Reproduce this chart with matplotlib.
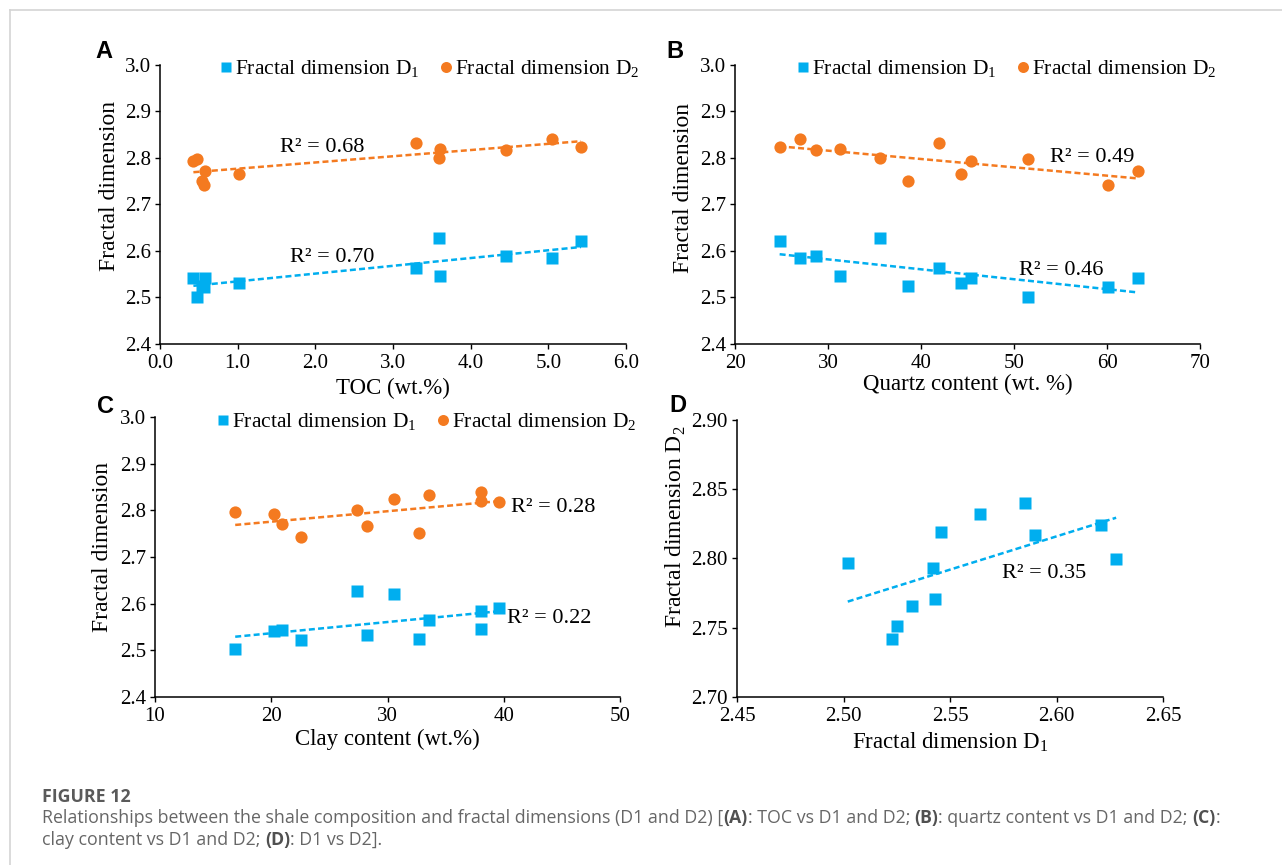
import numpy as np
import matplotlib
matplotlib.use("Agg")
import matplotlib.pyplot as plt
from matplotlib.lines import Line2D
from matplotlib.ticker import FormatStrFormatter, MultipleLocator

plt.rcParams["font.family"] = ["Liberation Serif", "DejaVu Serif"]
plt.rcParams["mathtext.fontset"] = "custom"
plt.rcParams["mathtext.rm"] = "Liberation Serif"

# Fractal dimensions of the twelve shale samples
d1 = [2.502, 2.523, 2.525, 2.532, 2.542, 2.543, 2.546, 2.564, 2.585, 2.590, 2.621, 2.628]
d2 = [2.797, 2.742, 2.751, 2.766, 2.793, 2.771, 2.819, 2.832, 2.840, 2.817, 2.824, 2.800]

# Composition of the same samples
toc = [0.48, 0.57, 0.54, 1.02, 0.43, 0.58, 3.60, 3.30, 5.05, 4.45, 5.42, 3.59]
quartz = [51.5, 60.1, 38.6, 44.3, 45.4, 63.3, 31.3, 41.9, 27.0, 28.7, 24.8, 35.6]
clay = [16.9, 22.6, 32.7, 28.2, 20.2, 20.9, 38.0, 33.6, 38.0, 39.6, 30.6, 27.4]

r2_toc = ["0.70", "0.68"]
r2_quartz = ["0.46", "0.49"]
r2_clay = ["0.22", "0.28"]
r2_d1d2 = "0.35"

BLUE = "#00AEEF"
ORANGE = "#F47A20"
SERIF = "Liberation Serif"

W, H = 1282, 865
fig = plt.figure(figsize=(W / 100, H / 100), dpi=100)
fig.patch.set_facecolor("white")


def px_axes(x0, y0, x1, y1):
    return fig.add_axes([x0 / W, 1 - y1 / H, (x1 - x0) / W, (y1 - y0) / H])


def style(ax, xlim, ylim, xstep, ystep, xfmt, yfmt):
    ax.set_xlim(*xlim)
    ax.set_ylim(*ylim)
    ax.xaxis.set_major_locator(MultipleLocator(xstep))
    ax.yaxis.set_major_locator(MultipleLocator(ystep))
    ax.xaxis.set_major_formatter(FormatStrFormatter(xfmt))
    ax.yaxis.set_major_formatter(FormatStrFormatter(yfmt))
    for s in ("top", "right"):
        ax.spines[s].set_visible(False)
    for s in ("left", "bottom"):
        ax.spines[s].set_linewidth(1.1)
    ax.tick_params(direction="out", length=3.5, width=1.0, labelsize=15, pad=3,
                   labelfontfamily=SERIF)
    ax.tick_params(axis="x", pad=4)
    ax.set_facecolor("none")


def trend(ax, x, y, color):
    x = np.asarray(x, float)
    y = np.asarray(y, float)
    k, b = np.polyfit(x, y, 1)
    xs = np.array([x.min(), x.max()])
    ax.plot(xs, k * xs + b, ls=(0, (2.4, 1.3)), lw=1.8, color=color, zorder=2)


def scatter_pair(ax, x):
    ax.plot(x, d1, "s", ms=8.3, color=BLUE, mec="none", zorder=3,
            label=r"Fractal dimension D$_\mathregular{1}$")
    ax.plot(x, d2, "o", ms=8.8, color=ORANGE, mec="none", zorder=3,
            label=r"Fractal dimension D$_\mathregular{2}$")
    trend(ax, x, d1, BLUE)
    trend(ax, x, d2, ORANGE)


def legend(ax, xa, ya):
    ax.legend(loc="center left", bbox_to_anchor=(xa, ya), ncol=2, frameon=False,
              prop={"family": SERIF, "size": 15.5}, handlelength=0.5,
              handletextpad=0.15, columnspacing=1.0, borderpad=0,
              borderaxespad=0, markerscale=0.9)


def r2(ax, x, y, value):
    ax.text(x, y, "R² = " + value, fontsize=16, va="center", family=SERIF)


# Panel A: TOC
axA = px_axes(160, 65, 626, 344)
style(axA, (0, 6), (2.4, 3.0), 1.0, 0.1, "%.1f", "%.1f")
scatter_pair(axA, toc)
legend(axA, 0.130, 0.986)
axA.set_xlabel("TOC (wt.%)", fontsize=16.5)
axA.xaxis.set_label_coords(0.5, -0.12)
axA.set_ylabel("Fractal dimension", fontsize=17)
axA.yaxis.set_label_coords(-0.086, 0.566)
r2(axA, 1.54, 2.822, r2_toc[1])
r2(axA, 1.67, 2.587, r2_toc[0])

# Panel B: quartz
axB = px_axes(735, 65, 1200, 344)
style(axB, (20, 70), (2.4, 3.0), 10, 0.1, "%d", "%.1f")
scatter_pair(axB, quartz)
legend(axB, 0.135, 0.986)
axB.set_xlabel("Quartz content (wt. %)", fontsize=16.5)
axB.xaxis.set_label_coords(0.5, -0.106)
axB.set_ylabel("Fractal dimension", fontsize=17)
axB.yaxis.set_label_coords(-0.088, 0.56)
r2(axB, 53.9, 2.80, r2_quartz[1])
r2(axB, 50.5, 2.557, r2_quartz[0])

# Panel C: clay
axC = px_axes(155, 417, 620, 697)
style(axC, (10, 50), (2.4, 3.0), 10, 0.1, "%d", "%.1f")
scatter_pair(axC, clay)
legend(axC, 0.135, 0.982)
axC.set_xlabel("Clay content (wt.%)", fontsize=16.5)
axC.xaxis.set_label_coords(0.5, -0.112)
axC.set_ylabel("Fractal dimension", fontsize=17)
axC.yaxis.set_label_coords(-0.090, 0.536)
r2(axC, 40.6, 2.805, r2_clay[1])
r2(axC, 40.3, 2.569, r2_clay[0])

# Panel D: D1 vs D2
axD = px_axes(737, 420, 1163, 697)
style(axD, (2.45, 2.65), (2.70, 2.90), 0.05, 0.05, "%.2f", "%.2f")
axD.plot(d1, d2, "s", ms=8.3, color=BLUE, mec="none", zorder=3)
trend(axD, d1, d2, BLUE)
axD.set_xlabel(r"Fractal dimension D$_\mathregular{1}$", fontsize=16.5)
axD.xaxis.set_label_coords(0.5, -0.12)
axD.set_ylabel(r"Fractal dimension D$_\mathregular{2}$", fontsize=17)
axD.yaxis.set_label_coords(-0.115, 0.614)
r2(axD, 2.5746, 2.7895, r2_d1d2)

# Panel letters
for letter, (x, y) in zip("ABCD", [(104, 51), (675, 51), (105, 407), (678, 406)]):
    fig.text(x / W, 1 - y / H, letter, family="Liberation Sans", weight="bold",
             fontsize=17, ha="center", va="center")

# Page frame
fig.add_artist(Line2D([10 / W, 10 / W], [1 - 10 / H, 0], color="#d4d4d4", lw=1.2,
                      transform=fig.transFigure))
fig.add_artist(Line2D([10 / W, 1], [1 - 10 / H, 1 - 10 / H], color="#d4d4d4", lw=1.2,
                      transform=fig.transFigure))

# Caption
CAP = "#666666"
fig.text(42 / W, 1 - 797 / H, "FIGURE 12", family="Open Sans", weight="bold",
         fontsize=12.8, color="#5a5a5a", va="center")

renderer = fig.canvas.get_renderer()


def rich_line(x_px, y_px, pieces, size=12.8):
    x = x_px
    for txt, bold in pieces:
        t = fig.text(x / W, 1 - y_px / H, txt, family="Open Sans",
                     weight="bold" if bold else "normal", fontsize=size,
                     color="#505050" if bold else CAP, va="center")
        x += t.get_window_extent(renderer).width


rich_line(42, 818, [
    ("Relationships between the shale composition and fractal dimensions (D1 and D2) [", False),
    ("(A)", True), (": TOC vs D1 and D2; ", False),
    ("(B)", True), (": quartz content vs D1 and D2; ", False),
    ("(C)", True), (":", False),
])
rich_line(42, 840, [
    ("clay content vs D1 and D2; ", False),
    ("(D)", True), (": D1 vs D2].", False),
])

fig.savefig("out.png", dpi=100, facecolor="white")
